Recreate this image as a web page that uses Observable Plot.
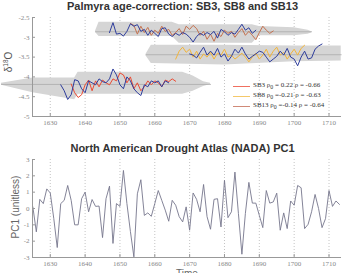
<!DOCTYPE html>
<html><head><meta charset="utf-8">
<script src="https://cdn.jsdelivr.net/npm/d3@7"></script>
<script src="https://cdn.jsdelivr.net/npm/@observablehq/plot@0.6"></script>
<style>
body{margin:0;background:#fff;}
#wrap{position:relative;width:343px;height:273px;overflow:hidden;background:#fff;font-family:"Liberation Sans",Arial,sans-serif;}
.title{position:absolute;left:11px;width:343px;text-align:center;font-weight:bold;font-size:11px;color:#333;white-space:nowrap;}
.ylab{position:absolute;transform:translate(-50%,-50%) rotate(-90deg);color:#555;white-space:nowrap;}
.plot{position:absolute;left:0;}
.leg{position:absolute;font-family:"Liberation Serif",serif;font-size:7px;color:#333;white-space:nowrap;}
.leg span.ln{position:absolute;left:-20px;top:50%;width:17px;height:1px;}
</style>
</head><body>
<div id="wrap">
  <div id="p1" class="plot" style="top:0"></div>
  <div id="p2" class="plot" style="top:140px"></div>
  <div class="title" style="top:0px">Palmyra age-correction: SB3, SB8 and SB13</div>
  <div class="title" style="top:142px">North American Drought Atlas (NADA) PC1</div>
  <div class="ylab" style="left:8px;top:62px;font-size:10px">δ<sup style="font-size:6.5px">18</sup>O</div>
  <div class="ylab" style="left:15px;top:207px;font-size:10px;color:#666">PC1 (unitless)</div>
  <div style="position:absolute;left:176px;top:268px;font-size:10px;line-height:11px;color:#666">Time</div>
  <div class="leg" style="left:253px;top:81px"><span class="ln" style="background:#f07060"></span>SB3 ρ<sub>0</sub> = 0.22 ρ = -0.66</div>
  <div class="leg" style="left:253px;top:91px"><span class="ln" style="background:#f5c86a"></span>SB8 ρ<sub>0</sub> =-0.21 ρ = -0.63</div>
  <div class="leg" style="left:253px;top:101px"><span class="ln" style="background:#d08a78"></span>SB13 ρ<sub>0</sub> =-0.14 ρ = -0.64</div>
</div>
<script>
// ---------- data ----------
const xTicks = [1630,1640,1650,1660,1670,1680,1690,1700,1710];
const yTicksTop = [-2.5,-3,-3.5,-4,-4.5,-5];
const yTicksBottom = [3,2,1,0,-1,-2,-3];

// top band (SB13 alignment)
const bandTopYears = [1643,1644,1665,1667,1688,1690,1700,1704,1705];
const bandTopHi    = [-2.84,-2.62,-2.62,-2.68,-2.68,-2.73,-2.76,-2.82,-2.86];
const bandTopLo    = [-2.88,-2.98,-2.98,-3.15,-3.15,-2.96,-2.96,-2.92,-2.89];
const bandTopMid   = -2.86;
// middle band (SB8 alignment)
const bandMidYears = [1657.5,1659,1680,1700,1713.5];
const bandMidHi    = [-3.43,-3.2,-3.2,-3.22,-3.22];
const bandMidLo    = [-3.47,-3.66,-3.7,-3.62,-3.6];
const bandMidMid   = -3.44;
// bottom band (SB3 alignment)
const bandBotYears = [1616,1625,1637,1638,1668,1671,1674,1676];
const bandBotHi    = [-4.16,-4.03,-4.03,-3.88,-3.88,-3.98,-4.12,-4.16];
const bandBotLo    = [-4.21,-4.4,-4.58,-4.44,-4.44,-4.36,-4.24,-4.19];
const bandBotMid   = -4.19;

// blue reference lines
const blueTopStart = 1647;
const blueTop = [-2.88,-2.63,-2.92,-2.9,-2.97,-2.85,-2.66,-2.72,-2.68,-2.85,-2.8,-2.95,-2.82,-2.9,-2.98,-2.78,-2.76,-2.92,-2.98,-2.9,-2.95,-2.88,-2.92,-3.0,-3.12,-2.98,-2.9,-2.95,-2.88,-2.93,-2.85,-3.02,-2.8,-2.86,-2.95,-2.88,-2.92,-2.8,-2.67,-2.82,-2.76,-2.9,-2.82];
const blueMidStart = 1670;
const blueMid = [-3.42,-3.45,-3.52,-3.38,-3.25,-3.45,-3.35,-3.45,-3.28,-3.5,-3.42,-3.6,-3.48,-3.3,-3.4,-3.25,-3.42,-3.55,-3.48,-3.42,-3.35,-3.38,-3.5,-3.62,-3.55,-3.48,-3.35,-3.45,-3.28,-3.5,-3.55,-3.72,-3.5,-3.35,-3.55,-3.52,-3.3,-3.22,-3.17];
const blueBotStart = 1633;
const blueBot = [-4.2,-4.35,-4.57,-4.45,-4.07,-4.1,-4.3,-4.4,-4.1,-4.15,-4.2,-4.05,-4.12,-4.15,-4.05,-3.8,-3.95,-4.2,-4.3,-4.0,-4.1,-4.3,-4.4,-4.47,-4.2,-4.25,-4.1,-4.15,-4.1,-4.25,-4.1,-4.15];

// speleothem records
const sb13Start = 1653;
const sb13 = [-2.65,-2.7,-2.92,-2.72,-2.88,-2.75,-2.95,-2.82,-2.9,-2.72,-2.85,-2.8,-2.95,-2.88,-2.78,-2.93,-2.72,-2.8,-2.7,-2.78,-2.95,-2.85,-3.05,-2.92,-3.1,-2.9,-2.98,-2.82,-2.9,-2.85,-3.0,-2.88,-2.78,-2.95,-2.85,-2.95,-3.06,-2.88,-2.72,-2.82,-2.9,-2.84];
const sb8Start = 1666;
const sb8 = [-3.55,-3.35,-3.25,-3.38,-3.3,-3.5,-3.35,-3.55,-3.42,-3.5,-3.38,-3.55,-3.4,-3.45,-3.3,-3.5,-3.45,-3.55,-3.48,-3.4,-3.5,-3.62,-3.5,-3.4,-3.55,-3.45,-3.3,-3.5,-3.35,-3.25,-3.45,-3.38,-3.55,-3.42,-3.3,-3.45,-3.28,-3.2];
const sb3Start = 1636;
const sb3 = [-4.18,-4.4,-4.52,-4.45,-4.2,-4.08,-4.35,-4.1,-4.25,-4.08,-4.15,-4.2,-4.05,-4.1,-3.9,-3.95,-4.15,-4.0,-4.3,-4.15,-4.35,-4.25,-4.1,-4.2,-4.1,-4.15,-4.25,-4.08,-4.12,-4.05,-4.11];

// NADA PC1
const nadaStart = 1625;
const nada = [0.1,-1.43,0.56,0.3,1.2,0.95,-0.6,-2.39,0.3,0.5,1.41,0.5,-1.0,-1.0,0.6,1.0,-0.2,0.55,0.13,0.15,-1.78,0.6,1.37,-2.14,0.3,0.13,2.33,0.3,-1.4,-2.96,0.9,1.76,-0.42,-0.27,-0.48,0.3,1.1,0.5,-0.1,-0.78,0.5,0.2,-0.5,-0.82,0.1,-1.33,0.95,0.56,-0.2,1.47,-0.5,-1.27,0.56,0.6,-1.13,1.72,-0.56,-0.2,2.23,-0.3,-2.8,-0.3,1.6,0.33,0.33,-0.42,-1.17,1.1,0.33,0.4,0.94,-1.33,-0.27,-1.23,0.46,0.2,1.41,1.27,-1.23,-0.97,-0.2,0.86,0,-1.17,-0.62,1.1,0.13,0.46,0.25];

// ---------- helpers ----------
const series = (start, vals) => vals.map((v, i) => ({year: start + i, v}));
const band = (ys, hi, lo) => ys.map((y, i) => ({year: y, hi: hi[i], lo: lo[i]}));
const mid = (ys, m) => [{year: ys[0], v: m}, {year: ys[ys.length - 1], v: m}];
const fmt = d => String(d);

const C = {blue:"#2e3d9c", red:"#ec4a32", yellow:"#f3b53a", brown:"#c4714f", band:"#d5d5d5", mid:"#ababab"};

const xDomain = [1624.9, 1713.3];
const style = {fontFamily:'"Liberation Serif",serif', fontSize:"7px", color:"#888", background:"transparent"};
const axes = (yt) => [
  Plot.frame({anchor:"left", stroke:"#999"}),
  Plot.frame({anchor:"bottom", stroke:"#999"}),
  Plot.axisX(xTicks, {tickSize:-3, tickFormat:()=>"", stroke:"#999", label:null}),
  Plot.axisY(yt, {tickSize:-3, tickFormat:()=>"", stroke:"#999", label:null}),
  Plot.axisX(xTicks, {tickSize:0, tickPadding:4, tickFormat:fmt, fill:"#888", label:null}),
  Plot.axisY(yt, {tickSize:0, tickPadding:3, tickFormat:fmt, fill:"#888", label:null})
];

const p1 = Plot.plot({
  width:343, height:130, marginLeft:32, marginRight:3, marginTop:17, marginBottom:14,
  style,
  x:{domain:xDomain, label:null},
  y:{domain:[-5,-2.5], label:null},
  marks:[
    Plot.gridX(xTicks, {stroke:"#c4c4c4", strokeOpacity:1, strokeDasharray:"1,2"}),
    Plot.areaY(band(bandTopYears, bandTopHi, bandTopLo), {x:"year", y1:"lo", y2:"hi", fill:C.band}),
    Plot.areaY(band(bandMidYears, bandMidHi, bandMidLo), {x:"year", y1:"lo", y2:"hi", fill:C.band}),
    Plot.areaY(band(bandBotYears, bandBotHi, bandBotLo), {x:"year", y1:"lo", y2:"hi", fill:C.band}),
    Plot.lineY(mid(bandTopYears, bandTopMid), {x:"year", y:"v", stroke:C.mid, strokeWidth:0.8}),
    Plot.lineY(mid(bandMidYears, bandMidMid), {x:"year", y:"v", stroke:C.mid, strokeWidth:0.8}),
    Plot.lineY(mid(bandBotYears, bandBotMid), {x:"year", y:"v", stroke:C.mid, strokeWidth:0.8}),
    Plot.lineY(series(sb13Start, sb13), {x:"year", y:"v", stroke:C.brown, strokeWidth:1}),
    Plot.lineY(series(sb8Start, sb8), {x:"year", y:"v", stroke:C.yellow, strokeWidth:1}),
    Plot.lineY(series(sb3Start, sb3), {x:"year", y:"v", stroke:C.red, strokeWidth:1}),
    Plot.lineY(series(blueTopStart, blueTop), {x:"year", y:"v", stroke:C.blue, strokeWidth:1}),
    Plot.lineY(series(blueMidStart, blueMid), {x:"year", y:"v", stroke:C.blue, strokeWidth:1}),
    Plot.lineY(series(blueBotStart, blueBot), {x:"year", y:"v", stroke:C.blue, strokeWidth:1}),
    ...axes(yTicksTop)
  ]
});
document.getElementById("p1").appendChild(p1);

const p2 = Plot.plot({
  width:343, height:133, marginLeft:32, marginRight:3, marginTop:19, marginBottom:16,
  style,
  x:{domain:xDomain, label:null},
  y:{domain:[-3,3], label:null},
  marks:[
    Plot.gridX(xTicks, {stroke:"#c4c4c4", strokeOpacity:1, strokeDasharray:"1,2"}),
    Plot.lineY(series(nadaStart, nada), {x:"year", y:"v", stroke:"#76768c", strokeWidth:0.9}),
    ...axes(yTicksBottom)
  ]
});
document.getElementById("p2").appendChild(p2);
</script>
</body></html>
